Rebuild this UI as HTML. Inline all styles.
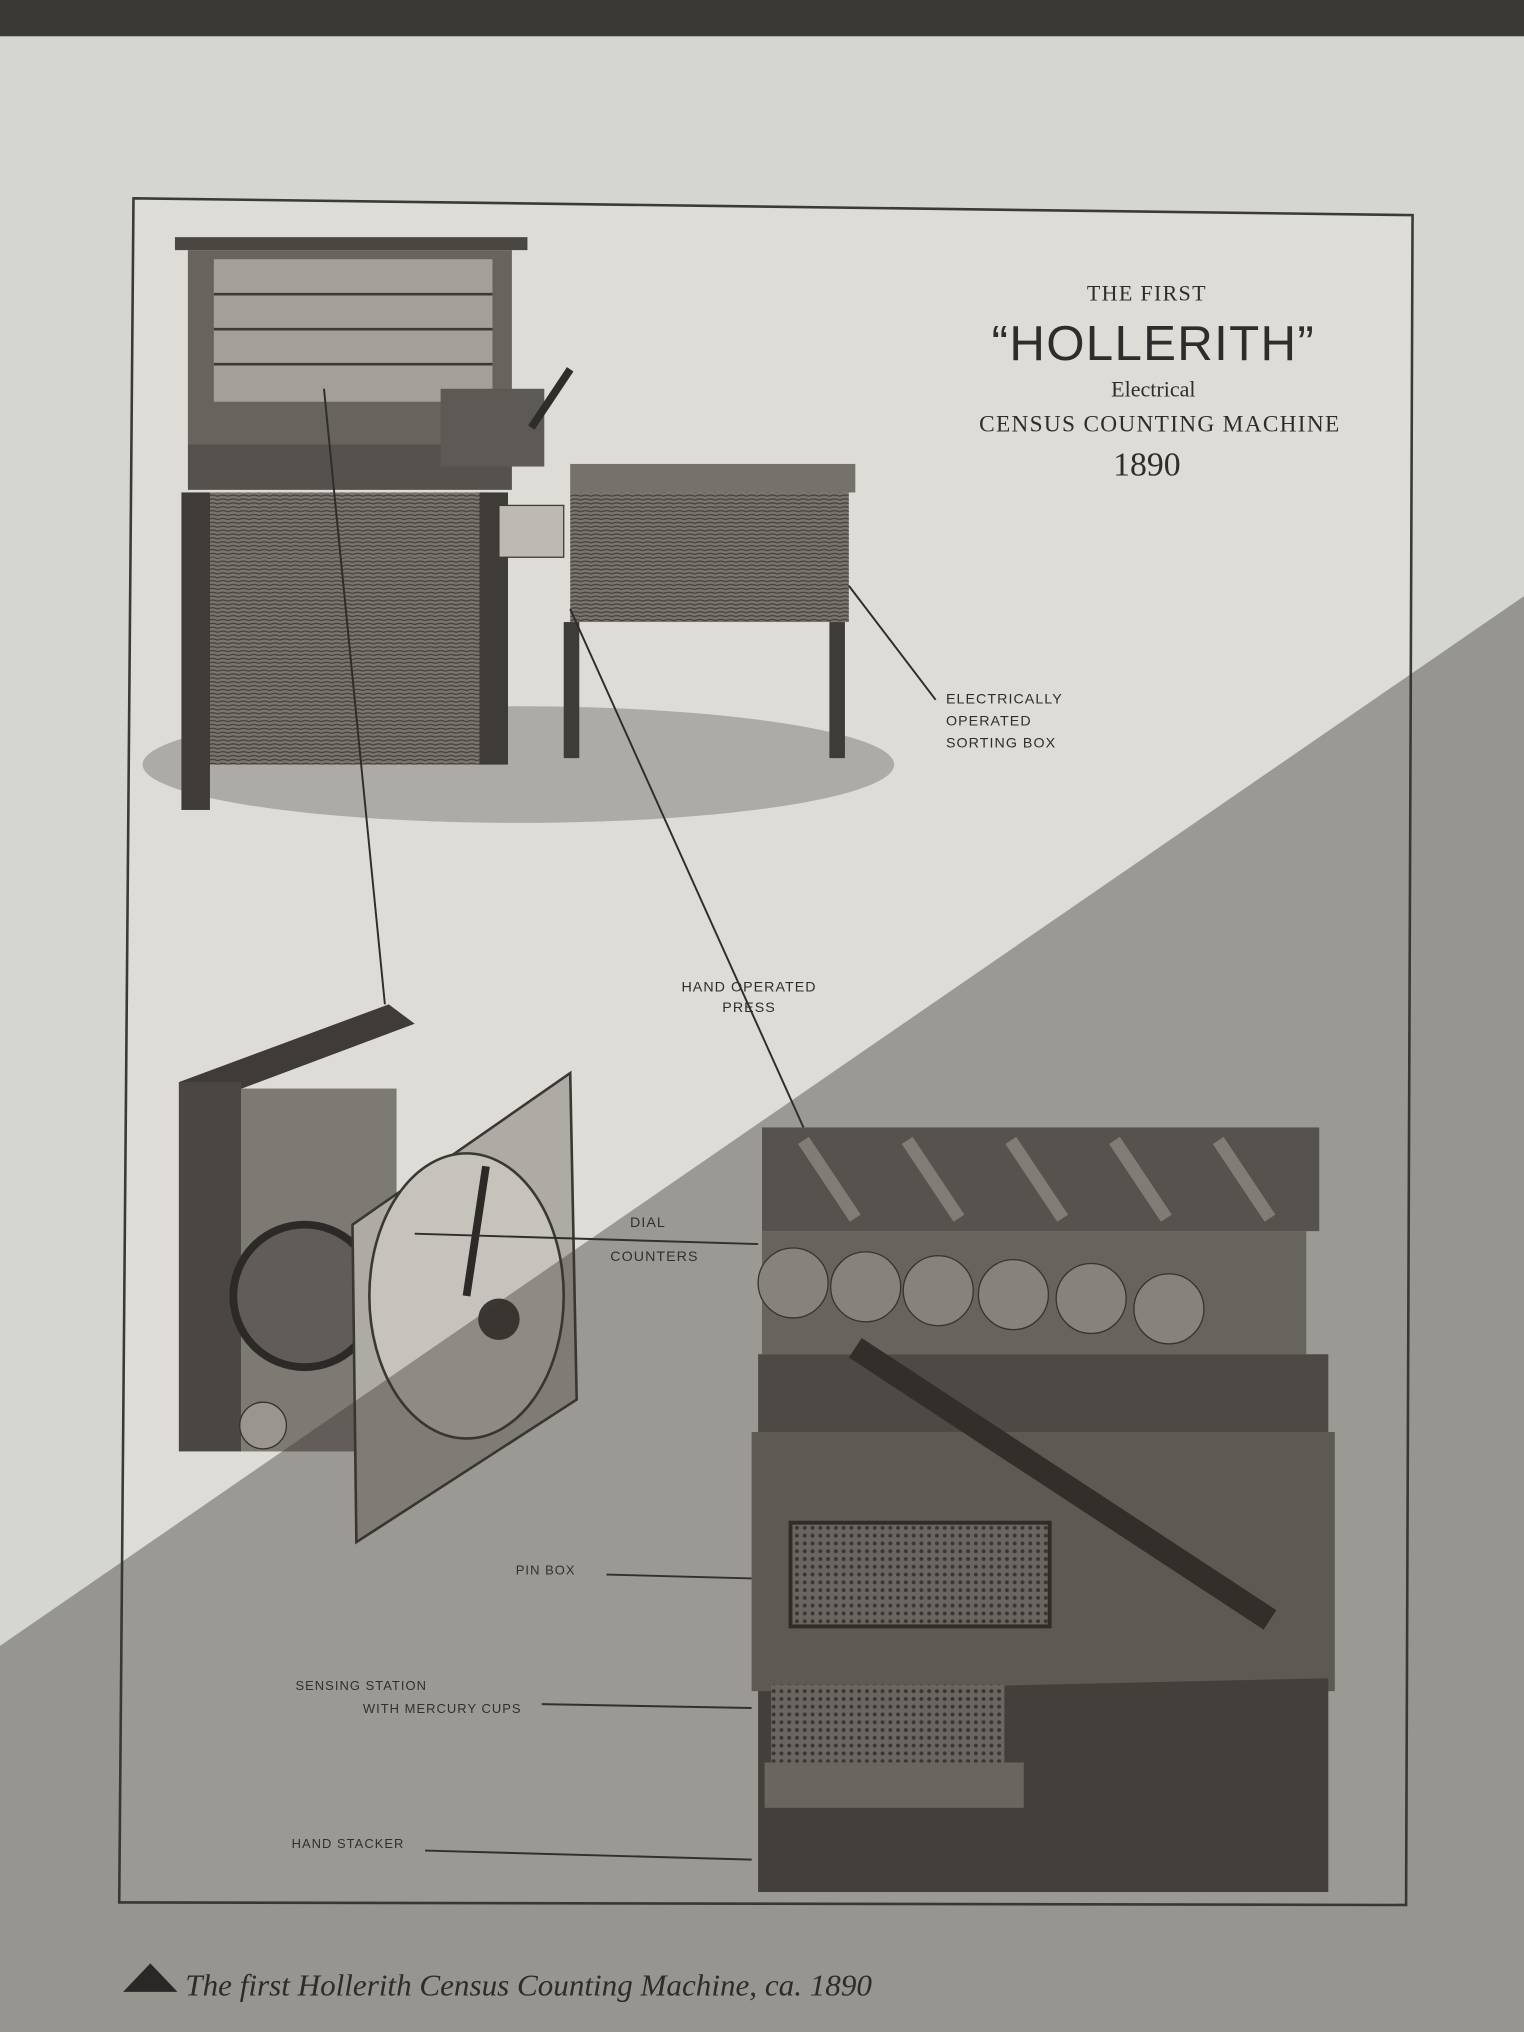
<!DOCTYPE html>
<html><head><meta charset="utf-8"><style>
html,body{margin:0;padding:0;background:#d6d6d1;}
svg{display:block;}
</style></head><body>
<svg width="1524" height="2032" viewBox="0 0 1176 1568" preserveAspectRatio="none" xmlns="http://www.w3.org/2000/svg">
<defs>
<pattern id="wood" width="8" height="6" patternUnits="userSpaceOnUse">
<rect width="8" height="6" fill="#7a766f"/><path d="M0 2 Q4 0 8 2 M0 5 Q4 3 8 5" stroke="#45423d" stroke-width="1" fill="none"/>
</pattern>
<pattern id="dots" width="6" height="6" patternUnits="userSpaceOnUse">
<rect width="6" height="6" fill="#8a8680"/><circle cx="3" cy="3" r="1.5" fill="#3a3733"/>
</pattern>
</defs>
<rect width="1176" height="1568" fill="#d6d6d1"/>
<rect width="1176" height="28" fill="#3b3936"/>
<!-- frame -->
<path d="M103 153 L1090 166 L1085 1470 L92 1468 Z" fill="#dddcd7" stroke="#3a3a38" stroke-width="2"/>
<!-- desk machine -->
<g>
<ellipse cx="400" cy="590" rx="290" ry="45" fill="#8e8b86" opacity="0.6"/>
<rect x="135" y="183" width="272" height="10" fill="#4a4743"/>
<rect x="145" y="193" width="250" height="150" fill="#67645e"/>
<rect x="165" y="200" width="215" height="110" fill="#a3a099"/>
<g stroke="#3c3a36" stroke-width="2"><line x1="165" y1="227" x2="380" y2="227"/><line x1="165" y1="254" x2="380" y2="254"/><line x1="165" y1="281" x2="380" y2="281"/></g>
<rect x="145" y="343" width="250" height="35" fill="#55524d"/>
<rect x="150" y="380" width="230" height="50" fill="url(#wood)"/>
<rect x="150" y="430" width="230" height="160" fill="url(#wood)"/>
<rect x="140" y="380" width="22" height="245" fill="#3f3c38"/>
<rect x="370" y="380" width="22" height="210" fill="#3f3c38"/>
<rect x="340" y="300" width="80" height="60" fill="#5d5a55"/>
<line x1="410" y1="330" x2="440" y2="285" stroke="#2f2d2a" stroke-width="6"/>
<rect x="385" y="390" width="50" height="40" fill="#bdbab3" stroke="#3f3c38"/>
<rect x="440" y="358" width="220" height="22" fill="#75716b"/>
<rect x="440" y="380" width="215" height="100" fill="url(#wood)"/>
<rect x="435" y="480" width="12" height="105" fill="#3f3c38"/>
<rect x="640" y="480" width="12" height="105" fill="#3f3c38"/>
</g>
<!-- title -->
<g font-family="Liberation Serif, serif" fill="#2e2d2b" text-anchor="middle">
<text x="885" y="232" font-size="17" letter-spacing="1">THE FIRST</text>
<text x="890" y="278" font-size="38" font-family="Liberation Sans, sans-serif" letter-spacing="1">“HOLLERITH”</text>
<text x="890" y="306" font-size="17">Electrical</text>
<text x="895" y="333" font-size="18" letter-spacing="1">CENSUS COUNTING MACHINE</text>
<text x="885" y="367" font-size="26">1890</text>
</g>
<!-- dial counter -->
<g>
<polygon points="138,835 300,775 320,790 160,850" fill="#3f3c38"/>
<rect x="138" y="835" width="48" height="285" fill="#4a4743"/>
<rect x="186" y="840" width="120" height="280" fill="#7d7973"/>
<circle cx="235" cy="1000" r="55" fill="#605d59" stroke="#2c2a27" stroke-width="6"/>
<polygon points="272,945 440,828 445,1080 275,1190" fill="#aeaba4" stroke="#3a3835" stroke-width="2"/>
<ellipse cx="360" cy="1000" rx="75" ry="110" fill="#c6c3bc" stroke="#3a3835" stroke-width="2"/>
<line x1="360" y1="1000" x2="375" y2="900" stroke="#2c2a27" stroke-width="6"/>
<circle cx="385" cy="1018" r="16" fill="#3a3835"/>
<circle cx="203" cy="1100" r="18" fill="#9a968f" stroke="#333"/>
</g>
<!-- press -->
<g>
<rect x="588" y="870" width="430" height="80" fill="#6a6762"/>
<g stroke="#b0ada6" stroke-width="10"><line x1="620" y1="880" x2="660" y2="940"/><line x1="700" y1="880" x2="740" y2="940"/><line x1="780" y1="880" x2="820" y2="940"/><line x1="860" y1="880" x2="900" y2="940"/><line x1="940" y1="880" x2="980" y2="940"/></g>
<rect x="588" y="950" width="420" height="95" fill="#86827c"/>
<g fill="#b9b6af" stroke="#333"><circle cx="612" cy="990" r="27"/><circle cx="668" cy="993" r="27"/><circle cx="724" cy="996" r="27"/><circle cx="782" cy="999" r="27"/><circle cx="842" cy="1002" r="27"/><circle cx="902" cy="1010" r="27"/></g>
<rect x="585" y="1045" width="440" height="60" fill="#5a5752"/>
<rect x="580" y="1105" width="450" height="200" fill="#76726c"/>
<rect x="610" y="1175" width="200" height="80" fill="url(#dots)" stroke="#2a2825" stroke-width="3"/>
<line x1="660" y1="1040" x2="980" y2="1250" stroke="#2e2c29" stroke-width="18"/>
<polygon points="585,1305 1025,1295 1025,1460 585,1460" fill="#4a4743"/>
<rect x="595" y="1300" width="180" height="60" fill="url(#dots)"/>
<rect x="590" y="1360" width="200" height="35" fill="#8a867f"/>
</g>
<!-- leader lines -->
<g stroke="#2e2d2b" stroke-width="1.5" fill="none">
<line x1="250" y1="300" x2="297" y2="775"/>
<line x1="440" y1="470" x2="620" y2="870"/>
<line x1="655" y1="452" x2="722" y2="540"/>
<line x1="320" y1="952" x2="585" y2="960"/>
<line x1="468" y1="1215" x2="580" y2="1218"/>
<line x1="418" y1="1315" x2="580" y2="1318"/>
<line x1="328" y1="1428" x2="580" y2="1435"/>
</g>
<!-- labels -->
<g font-family="Liberation Sans, sans-serif" font-size="11" fill="#2e2d2b" letter-spacing="0.8">
<text x="730" y="543">ELECTRICALLY</text>
<text x="730" y="560">OPERATED</text>
<text x="730" y="577">SORTING BOX</text>
<text x="578" y="765" text-anchor="middle">HAND OPERATED</text>
<text x="578" y="781" text-anchor="middle">PRESS</text>
<text x="500" y="947" text-anchor="middle">DIAL</text>
<text x="505" y="973" text-anchor="middle">COUNTERS</text>
<text x="398" y="1215" font-size="10">PIN BOX</text>
<text x="228" y="1304" font-size="10">SENSING STATION</text>
<text x="280" y="1322" font-size="10">WITH MERCURY CUPS</text>
<text x="225" y="1426" font-size="10">HAND STACKER</text>
</g>
<!-- shadow -->
<polygon points="1176,460 1176,1568 0,1568 0,1270" fill="#3a3530" opacity="0.4"/>
<!-- caption -->
<polygon points="95,1537 116,1515 137,1537" fill="#2a2826"/>
<text x="143" y="1540" font-family="Liberation Serif, serif" font-style="italic" font-size="24" fill="#2e2b28">The first Hollerith Census Counting Machine, ca. 1890</text>
</svg>
</body></html>
